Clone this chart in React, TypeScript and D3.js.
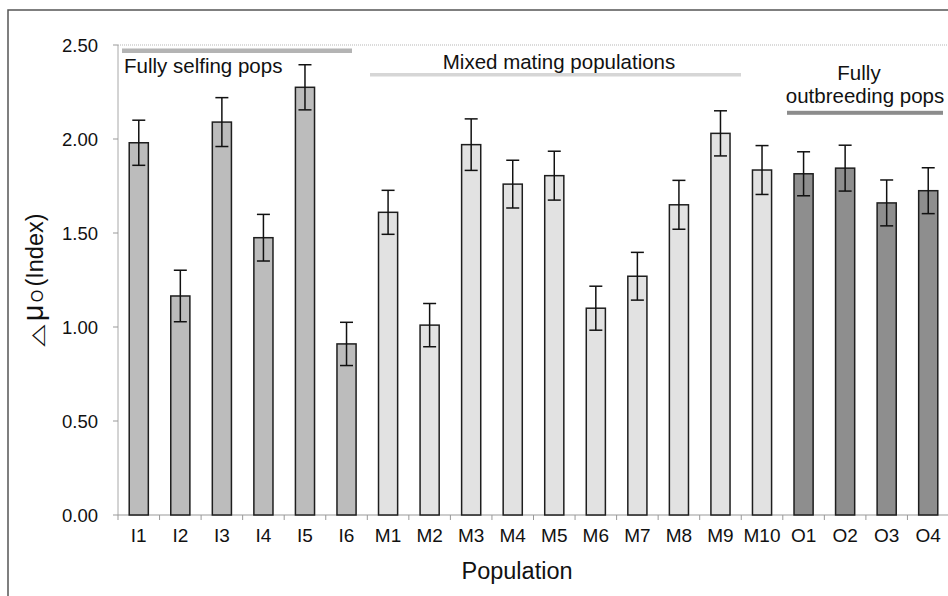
import React from "react";
import * as d3 from "d3";

const populations = ["I1","I2","I3","I4","I5","I6","M1","M2","M3","M4","M5","M6","M7","M8","M9","M10","O1","O2","O3","O4"];
const groups = ["I","I","I","I","I","I","M","M","M","M","M","M","M","M","M","M","O","O","O","O"];
const means = [1.98,1.165,2.09,1.475,2.275,0.91,1.61,1.01,1.97,1.76,1.805,1.10,1.27,1.65,2.03,1.835,1.815,1.845,1.66,1.725];
const errors = [0.12,0.137,0.13,0.124,0.12,0.115,0.117,0.115,0.137,0.127,0.13,0.117,0.127,0.13,0.12,0.13,0.117,0.122,0.122,0.122];
const yTicks = [0, 0.5, 1.0, 1.5, 2.0, 2.5];

const W = 948, H = 596;
const left = 118, right = 949, top = 45, bottom = 515;
const font = "'Liberation Sans', Arial, sans-serif";
const fills: Record<string, string> = { I: "#bcbcbc", M: "#e2e2e2", O: "#8e8e8e" };

export default function App() {
  const x = d3.scaleBand<string>().domain(populations).range([left, right]).padding(0);
  const y = d3.scaleLinear().domain([0, 2.5]).range([bottom, top]);
  const bw = x.bandwidth() * 0.46;
  const cap = 13;

  return (
    <svg width={W} height={H} style={{ position: "absolute", left: 0, top: 0, background: "#fff" }} fontFamily={font}>
      <rect x={8} y={10} width={1000} height={700} fill="none" stroke="#555" strokeWidth={1.5} />
      {/* plot area border */}
      <line x1={left} x2={right} y1={top} y2={top} stroke="#b5b5b5" strokeWidth={1} strokeDasharray="1 1" />
      <line x1={left} x2={left} y1={top} y2={bottom} stroke="#a8a8a8" strokeWidth={1} />
      <line x1={left} x2={right} y1={bottom} y2={bottom} stroke="#999" strokeWidth={1.2} />
      {/* y ticks */}
      {yTicks.map(t => (
        <g key={t}>
          <line x1={left - 5} x2={left} y1={y(t)} y2={y(t)} stroke="#999" />
          <text x={98} y={y(t)} dy="0.36em" textAnchor="end" fontSize={18.5} fill="#111">{t.toFixed(2)}</text>
        </g>
      ))}
      {/* x ticks */}
      {populations.map(p => (
        <line key={"t" + p} x1={(x(p) as number)} x2={(x(p) as number)} y1={bottom} y2={bottom + 5} stroke="#999" />
      ))}
      {populations.map(p => (
        <text key={"l" + p} x={(x(p) as number) + x.bandwidth() / 2} y={542} textAnchor="middle" fontSize={19} fill="#111">{p}</text>
      ))}
      {/* bars */}
      {populations.map((p, i) => {
        const cx = (x(p) as number) + x.bandwidth() / 2;
        return (
          <g key={"b" + p}>
            <rect x={cx - bw / 2} y={y(means[i])} width={bw} height={y(0) - y(means[i])} fill={fills[groups[i]]} stroke="#1e1e1e" strokeWidth={1.5} />
            <line x1={cx} x2={cx} y1={y(means[i] + errors[i])} y2={y(means[i] - errors[i])} stroke="#111" strokeWidth={1.5} />
            <line x1={cx - cap / 2} x2={cx + cap / 2} y1={y(means[i] + errors[i])} y2={y(means[i] + errors[i])} stroke="#111" strokeWidth={1.5} />
            <line x1={cx - cap / 2} x2={cx + cap / 2} y1={y(means[i] - errors[i])} y2={y(means[i] - errors[i])} stroke="#111" strokeWidth={1.5} />
          </g>
        );
      })}
      {/* group annotations */}
      <rect x={122} y={48.5} width={230} height={4.5} fill="#b4b4b4" />
      <text x={124} y={73} fontSize={20.5} fill="#111">Fully selfing pops</text>
      <rect x={370} y={73} width={371} height={3.5} fill="#d6d6d6" />
      <text x={559} y={69} textAnchor="middle" fontSize={20.5} fill="#111">Mixed mating populations</text>
      <rect x={787} y={110.8} width={156} height={4} fill="#8c8c8c" />
      <text x={859} y={80} textAnchor="middle" fontSize={20.5} fill="#111">Fully</text>
      <text x={865} y={103} textAnchor="middle" fontSize={20.5} fill="#111">outbreeding pops</text>
      {/* axis titles */}
      <text x={517} y={579} textAnchor="middle" fontSize={23.5} fill="#111">Population</text>
      <text transform="translate(42.5,335.5) rotate(-90) scale(1.45,0.85)" textAnchor="middle" fontSize={20} fontFamily="'DejaVu Sans'" fill="#111">△</text>
      <text transform="translate(43,313) rotate(-90)" textAnchor="middle" fontSize={29} fill="#111">μ</text>
      <text transform="translate(43,296) rotate(-90)" textAnchor="middle" fontSize={16} fill="#111">O</text>
      <text transform="translate(43,250) rotate(-90)" textAnchor="middle" fontSize={23.5} fill="#111">(Index)</text>
    </svg>
  );
}
